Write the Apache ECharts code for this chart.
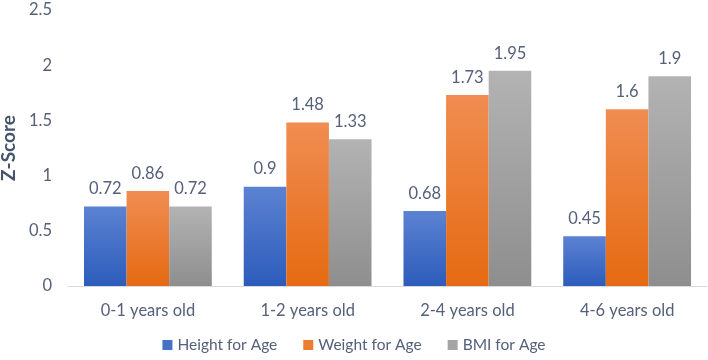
<!DOCTYPE html>
<html>
<head>
<meta charset="utf-8">
<script src="https://cdn.jsdelivr.net/npm/echarts@6/dist/echarts.min.js"></script>
<style>html,body{margin:0;padding:0;background:#fff;}#c{width:708px;height:360px;}</style>
</head>
<body>
<div id="c"></div>
<script>
const categories = ['0-1 years old', '1-2 years old', '2-4 years old', '4-6 years old'];
const heightForAge = [0.72, 0.9, 0.68, 0.45];
const weightForAge = [0.86, 1.48, 1.73, 1.6];
const bmiForAge = [0.72, 1.33, 1.95, 1.9];
const seriesNames = ['Height for Age', 'Weight for Age', 'BMI for Age'];

const txt = '#56607a';
const font = 'Lato, "Open Sans", sans-serif';
function grad(top, bottom) {
  return new echarts.graphic.LinearGradient(0, 0, 0, 1, [
    {offset: 0, color: top}, {offset: 1, color: bottom}
  ]);
}
const styles = [
  {c: '#4472C4', g: grad('#5c82d2', '#2c5cbb')},
  {c: '#ED7D31', g: grad('#f08d52', '#e56a12')},
  {c: '#A5A5A5', g: grad('#b3b3b3', '#8e8e8e')}
];
const dataSets = [heightForAge, weightForAge, bmiForAge];

const chart = echarts.init(document.getElementById('c'), null, {renderer: 'canvas'});
chart.setOption({
  animation: false,
  textStyle: {fontFamily: font},
  grid: {left: 68, right: 1, top: 10, bottom: 74, containLabel: false, outerBoundsMode: 'none'},
  legend: {
    bottom: 2,
    left: 'center',
    itemWidth: 10, itemHeight: 10, itemGap: 26,
    icon: 'rect',
    textStyle: {color: txt, fontSize: 15.5, fontFamily: font},
    data: seriesNames.map((n, i) => ({name: n, itemStyle: {color: styles[i].c}}))
  },
  xAxis: {
    type: 'category',
    data: categories,
    axisLine: {lineStyle: {color: '#d9d9d9', width: 1}},
    axisTick: {show: false},
    axisLabel: {color: txt, fontSize: 16.5, margin: 16, fontFamily: font}
  },
  yAxis: {
    type: 'value',
    min: 0, max: 2.5, interval: 0.5,
    name: 'Z-Score',
    nameLocation: 'middle',
    nameGap: 50,
    nameRotate: 90,
    nameTextStyle: {color: '#44546a', fontSize: 19, fontWeight: 'bold', fontFamily: font},
    axisLine: {show: false},
    axisTick: {show: false},
    splitLine: {show: false},
    axisLabel: {color: txt, fontSize: 16.5, margin: 16, fontFamily: font}
  },
  series: dataSets.map((d, i) => ({
    name: seriesNames[i],
    type: 'bar',
    data: d,
    barGap: '0%',
    barCategoryGap: '20%',
    itemStyle: {color: styles[i].g},
    label: {show: true, position: 'top', distance: 9, color: txt, fontSize: 16.5, fontFamily: font}
  }))
});
</script>
</body>
</html>
